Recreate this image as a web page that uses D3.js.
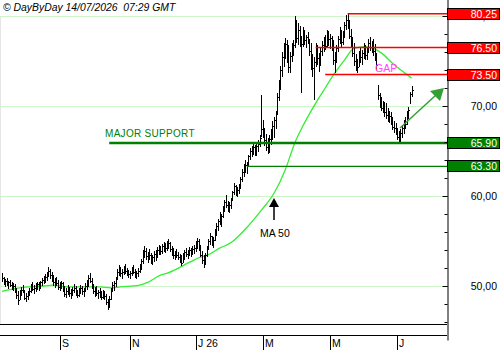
<!DOCTYPE html>
<html>
<head>
<meta charset="utf-8">
<script src="https://cdn.jsdelivr.net/npm/d3@7"></script>
<style>
  body { margin: 0; background: #fff; }
  svg { display: block; font-family: "Liberation Sans", Arial, sans-serif; }
</style>
</head>
<body>
<svg></svg>
<script>
const width = 500;
const height = 350;

// daily bars, [high, low, close]
const bars = [
  [51.4,50.4,50.9],[51.0,50.1,50.3],[50.8,49.9,50.6],[50.9,50.0,50.2],[50.6,49.7,50.4],
  [50.7,49.9,50.1],[50.5,49.6,49.9],[50.3,49.4,50.0],[50.2,49.2,49.5],[49.8,48.6,49.0],
  [49.5,47.9,48.4],[49.6,48.5,49.3],[49.9,48.9,49.6],[50.1,49.2,49.4],[49.6,48.5,48.7],
  [49.2,48.2,48.9],[49.5,48.4,49.2],[49.8,48.9,49.5],[50.2,49.2,49.9],[50.4,49.4,49.7],
  [50.1,49.1,49.8],[50.3,49.3,50.0],[50.5,49.6,50.2],[50.4,49.5,49.9],[50.6,49.7,50.4],
  [50.9,50.0,50.7],[51.1,50.2,50.5],[51.3,50.4,51.0],[51.6,50.6,51.3],[52.1,51.0,51.7],
  [51.9,50.8,51.2],[51.6,50.5,50.9],[51.2,50.0,50.4],[50.9,49.8,50.6],[51.0,50.0,50.3],
  [50.7,49.6,49.9],[50.4,49.4,50.1],[50.6,49.7,50.3],[50.5,49.3,49.6],[50.0,48.8,49.1],
  [49.8,48.7,49.4],[50.1,49.0,49.7],[49.9,48.8,49.2],[49.7,48.6,49.0],[49.9,48.9,49.6],
  [50.2,49.2,49.8],[50.0,48.9,49.3],[49.6,48.7,49.0],[49.8,48.8,49.5],[50.1,49.1,49.8],
  [50.0,49.0,49.4],[49.8,48.8,49.6],[50.3,49.3,50.0],[50.7,49.6,50.4],[51.2,49.9,50.9],
  [51.4,50.3,50.6],[50.9,49.7,49.9],[50.2,49.1,49.4],[49.9,48.8,49.5],[50.0,48.9,49.2],
  [49.6,48.6,49.3],[49.8,48.7,49.0],[49.5,48.5,48.8],[49.6,48.6,49.2],[49.5,48.4,48.9],
  [49.1,47.9,48.2],[48.6,47.3,47.8],[48.9,47.6,48.6],[49.8,48.5,49.6],[50.4,49.3,50.1],
  [50.6,49.5,50.3],[51.0,49.9,50.8],[51.9,50.7,51.6],[52.3,51.1,51.8],[52.1,51.0,51.4],
  [51.9,50.8,51.6],[52.2,51.2,51.9],[52.4,51.3,51.7],[52.0,51.1,51.5],[51.8,50.9,51.3],
  [51.7,50.8,51.5],[52.1,51.1,51.8],[52.3,51.3,51.6],[51.9,50.9,51.2],[51.7,50.8,51.5],
  [52.0,51.0,51.7],[52.4,51.4,52.2],[53.0,51.8,52.8],[54.0,52.4,53.7],[54.5,53.1,53.9],
  [54.2,52.9,53.3],[53.8,52.6,53.6],[54.1,52.9,53.4],[53.7,52.5,52.9],[53.5,52.3,53.2],
  [53.9,52.7,53.6],[54.0,52.8,53.3],[54.3,53.1,54.0],[54.6,53.4,54.2],[54.5,53.5,53.9],
  [54.7,53.6,54.4],[54.9,53.8,54.5],[54.8,53.7,54.2],[55.0,53.9,54.6],[55.2,54.1,54.8],
  [54.9,53.8,54.1],[54.4,53.3,53.7],[54.2,53.0,53.5],[53.9,52.9,53.6],[54.1,53.1,53.4],
  [53.8,52.9,53.2],[53.6,52.6,53.0],[53.5,52.2,52.6],[53.7,52.6,53.4],[54.0,52.9,53.8],
  [54.2,53.2,53.6],[54.0,53.0,53.7],[54.3,53.3,54.0],[54.2,53.2,53.8],[54.4,53.4,54.1],
  [54.6,53.6,54.2],[55.0,53.8,54.7],[55.3,54.1,55.0],[55.2,53.9,54.3],[54.6,53.2,53.5],
  [53.9,52.5,52.9],[53.4,52.0,52.6],[53.7,52.3,53.4],[54.5,53.2,54.3],[55.2,54.0,55.0],
  [55.9,54.6,55.6],[55.6,54.4,54.9],[55.4,54.2,55.1],[56.3,55.0,56.0],[57.0,55.6,56.7],
  [57.5,56.1,57.2],[58.2,56.8,57.5],[58.0,56.6,57.8],[58.9,57.6,58.6],[59.6,58.2,59.3],
  [60.1,58.7,59.0],[59.5,58.2,58.6],[59.3,58.1,59.0],[59.8,58.6,59.6],[60.6,59.4,60.4],
  [61.4,60.1,61.1],[61.2,60.0,60.6],[61.0,59.9,60.7],[61.3,60.2,61.0],[62.1,60.8,61.9],
  [63.0,61.6,62.7],[63.6,62.1,63.3],[64.0,62.6,63.5],[63.8,62.5,63.6],[64.6,63.3,64.4],
  [65.3,64.0,65.0],[65.6,64.3,65.2],[65.9,64.6,65.4],[65.7,64.4,65.1],[65.9,64.5,65.6],
  [66.2,64.9,65.8],[66.8,65.4,66.5],[71.2,66.6,67.4],[68.4,66.4,67.0],[67.6,65.6,66.2],
  [66.9,65.0,65.5],[66.4,64.7,65.2],[66.8,64.8,66.3],[67.5,65.7,67.1],[68.3,66.2,67.8],
  [68.8,66.5,68.4],[69.5,67.4,69.2],[71.5,69.0,71.0],[72.9,70.6,72.4],[74.5,71.8,74.0],
  [76.0,73.2,75.4],[77.0,74.3,75.8],[77.6,75.2,76.9],[77.3,74.8,75.4],[76.8,73.7,74.3],
  [76.0,73.7,75.5],[77.0,74.9,76.5],[77.3,75.6,76.8],[80.0,76.4,79.1],[79.6,77.0,77.6],
  [79.2,76.8,78.4],[78.9,76.6,77.1],[77.8,71.4,76.9],[78.8,76.6,78.1],[78.5,76.8,77.3],
  [77.9,76.4,77.7],[78.2,76.9,77.2],[77.5,75.6,76.1],[77.0,74.0,74.6],[75.8,73.2,74.2],
  [75.4,70.7,74.9],[77.0,74.3,76.4],[76.8,74.6,75.3],[75.9,73.8,74.5],[76.5,74.4,76.1],
  [77.2,75.6,76.8],[77.7,76.0,77.3],[77.9,76.2,76.7],[78.4,76.5,78.0],[78.3,76.7,77.4],
  [78.0,76.3,77.6],[77.8,76.1,76.6],[77.3,74.6,75.1],[76.0,73.7,75.6],[76.8,74.8,76.4],
  [77.8,76.0,77.4],[78.8,76.9,78.3],[78.5,76.6,77.1],[78.3,76.8,78.0],[79.3,77.6,79.0],
  [80.1,78.4,79.6],[80.25,78.6,78.9],[79.6,77.4,77.8],[78.6,76.6,77.3],[77.7,75.4,75.9],
  [77.0,74.5,75.0],[75.8,73.9,74.6],[75.2,73.7,74.3],[76.1,74.3,75.8],[76.6,74.8,75.4],
  [76.2,74.6,75.9],[77.0,75.2,76.6],[76.8,75.1,75.7],[76.5,75.1,76.2],[77.4,75.9,77.0],
  [77.7,76.1,76.6],[77.2,75.9,76.8],[77.5,75.6,76.1],[76.9,75.0,75.4],[75.9,74.0,74.5],
  [72.3,70.7,71.2],[71.4,69.8,70.4],[71.0,69.4,69.8],[70.6,69.2,70.1],[70.4,68.8,69.3],
  [70.3,68.6,69.0],[69.8,68.2,68.7],[69.5,68.1,68.9],[69.3,67.9,68.3],[68.8,67.3,67.7],
  [68.3,67.0,67.6],[68.1,66.8,67.2],[67.6,66.2,66.6],[67.2,65.9,66.3],[67.4,66.0,67.0],
  [67.9,66.5,67.6],[68.5,66.9,68.2],[68.8,67.4,68.0],[69.5,67.9,69.2],[69.9,68.6,69.6],
  [71.6,70.2,71.3],[72.2,71.0,71.8]
];

// 50 day moving average, read as [bar index, value]
const ma50 = [
  [0,49.4],[11,49.8],[26,50.0],[32,50.1],[41,49.9],[51,49.9],[61,49.9],[68,49.8],
  [74,49.9],[86,50.1],[91,50.4],[99,51.2],[103,51.4],[118,52.7],[124,53.2],[128,53.4],
  [136,54.2],[143,54.8],[152,56.3],[162,58.4],[170,60.3],[177,62.9],[183,65.9],[189,68.1],
  [196,70.3],[202,72.0],[207,73.4],[214,75.1],[220,76.4],[227,76.6],[232,76.4],[237,75.9],
  [245,74.6],[256,73.1]
];

const resistances = [80.25, 76.50, 73.50];
const resistanceStart = [216, 196, 202];
const supports = [65.90, 63.30];
const supportStart = [67, 153];

const gridValues = [80, 70, 60, 50];
const monthLabels = ["S", "N", "J 26", "M", "M", "J"];
const monthIndex = [36, 80, 121, 163, 205, 247];

const title = "\u00a9 DayByDay 14/07/2026\u00a0 07:29 GMT";

const axisX = 447;
const svg = d3.select("svg").attr("width", width).attr("height", height);

const x = d3.scaleLinear().domain([0, bars.length - 1]).range([2, 411.6]);
const y = d3.scaleLinear().domain([44, 82]).range([340, -2]);
const fmt = v => d3.format(".2f")(v).replace(".", ",");

// left border
svg.append("line").attr("x1", 0.5).attr("x2", 0.5).attr("y1", 17).attr("y2", 324)
    .attr("stroke", "#e6e6e6");

// grid
svg.selectAll(".grid").data(gridValues).enter().append("line")
    .attr("x1", 0).attr("x2", axisX)
    .attr("y1", d => Math.round(y(d)) + 0.5).attr("y2", d => Math.round(y(d)) + 0.5)
    .attr("stroke", "#ccf5c8");

// moving average
const maLine = d3.line().x(d => x(d[0])).y(d => y(d[1])).curve(d3.curveMonotoneX);
svg.append("path").datum(ma50).attr("d", maLine)
    .attr("fill", "none").attr("stroke", "#33ee33").attr("stroke-width", 1.3);

// bars
const barG = svg.append("g").attr("stroke", "#000").attr("shape-rendering", "crispEdges");
barG.selectAll(".hl").data(bars).enter().append("line")
    .attr("x1", (d, i) => Math.round(x(i)) + 0.5).attr("x2", (d, i) => Math.round(x(i)) + 0.5)
    .attr("y1", d => y(d[0])).attr("y2", d => y(d[1]));
barG.selectAll(".cl").data(bars).enter().append("line")
    .attr("x1", (d, i) => Math.round(x(i)) + 1).attr("x2", (d, i) => Math.round(x(i)) + 2)
    .attr("y1", d => Math.round(y(d[2])) + 0.5).attr("y2", d => Math.round(y(d[2])) + 0.5);

// resistance lines
svg.selectAll(".res").data(resistances).enter().append("line")
    .attr("x1", (d, i) => x(resistanceStart[i])).attr("x2", axisX)
    .attr("y1", d => y(d)).attr("y2", d => y(d))
    .attr("stroke", "#ff0000").attr("stroke-width", 1.5);

// support lines
svg.selectAll(".sup").data(supports).enter().append("line")
    .attr("x1", (d, i) => x(supportStart[i])).attr("x2", axisX)
    .attr("y1", d => y(d)).attr("y2", d => y(d))
    .attr("stroke", "#008000").attr("stroke-width", (d, i) => i === 0 ? 2.5 : 1.2);

svg.append("text").attr("x", 105).attr("y", y(supports[0]) - 6)
    .attr("fill", "#008000").attr("font-size", 10).attr("letter-spacing", 0.3)
    .text("MAJOR SUPPORT");

svg.append("text").attr("x", 375).attr("y", 72)
    .attr("fill", "#ff44ff").attr("font-size", 10.5).text("GAP");

// MA 50 note
svg.append("line").attr("x1", 274).attr("x2", 274).attr("y1", 220).attr("y2", 205)
    .attr("stroke", "#000").attr("stroke-width", 1.5);
svg.append("path").attr("d", "M274,198 L279,207 L269,207 Z").attr("fill", "#000");
svg.append("text").attr("x", 260).attr("y", 237).attr("font-size", 10.5).text("MA 50");

// trend arrow
const arrowColor = "#33a033";
svg.append("line").attr("x1", 400).attr("y1", 128).attr("x2", 436).attr("y2", 95)
    .attr("stroke", arrowColor).attr("stroke-width", 1.5);
svg.append("path").attr("d", "M444,88 L440,101 L430,91 Z").attr("fill", arrowColor);

// bottom frame & months
[324.5, 335.5].forEach(v => {
  svg.append("line").attr("x1", 0).attr("x2", axisX).attr("y1", v).attr("y2", v)
      .attr("stroke", "#000");
});
const months = svg.append("g");
months.selectAll("line").data(monthIndex).enter().append("line")
    .attr("x1", d => Math.round(x(d)) + 0.5).attr("x2", d => Math.round(x(d)) + 0.5)
    .attr("y1", 336).attr("y2", 350).attr("stroke", "#000");
months.selectAll("text").data(monthLabels).enter().append("text")
    .attr("x", (d, i) => Math.round(x(monthIndex[i])) + 2).attr("y", 347)
    .attr("font-size", 10.5).text(d => d);

// price axis
const minorAxis = d3.axisLeft(y).tickValues(d3.range(46, 82, 2)).tickSize(3)
    .tickSizeOuter(0).tickFormat("");
const ax = svg.append("g").attr("transform", `translate(${axisX + 0.5},0)`).call(minorAxis);
ax.selectAll("line").attr("stroke", "#000");
ax.select(".domain").attr("stroke", "#000");
const majorAxis = d3.axisLeft(y).tickValues(gridValues).tickSize(5).tickFormat("");
const ax2 = svg.append("g").attr("transform", `translate(${axisX + 0.5},0)`).call(majorAxis);
ax2.select(".domain").remove();

svg.selectAll(".ylab").data(gridValues).enter().append("text")
    .attr("x", 497).attr("y", d => y(d) + 4).attr("text-anchor", "end")
    .attr("font-size", 10.5).text(d => fmt(d));

// level boxes
const boxes = resistances.map(v => ({v, fill: "#ff0000"}))
    .concat(supports.map(v => ({v, fill: "#008000"})));
const boxG = svg.selectAll(".box").data(boxes).enter().append("g");
boxG.append("rect").attr("x", axisX + 0.5).attr("width", 52)
    .attr("y", d => Math.round(y(d.v)) - 5.5).attr("height", 11)
    .attr("fill", d => d.fill).attr("stroke", "#000").attr("stroke-width", 1);
boxG.append("text").attr("x", 497).attr("y", d => Math.round(y(d.v)) + 4)
    .attr("text-anchor", "end").attr("fill", "#fff").attr("font-size", 10.5)
    .text(d => d3.format(".2f")(d.v));

// header
svg.append("text").attr("x", 3).attr("y", 10.5).attr("font-size", 10.4)
    .attr("font-style", "italic").text(title);
</script>
</body>
</html>
